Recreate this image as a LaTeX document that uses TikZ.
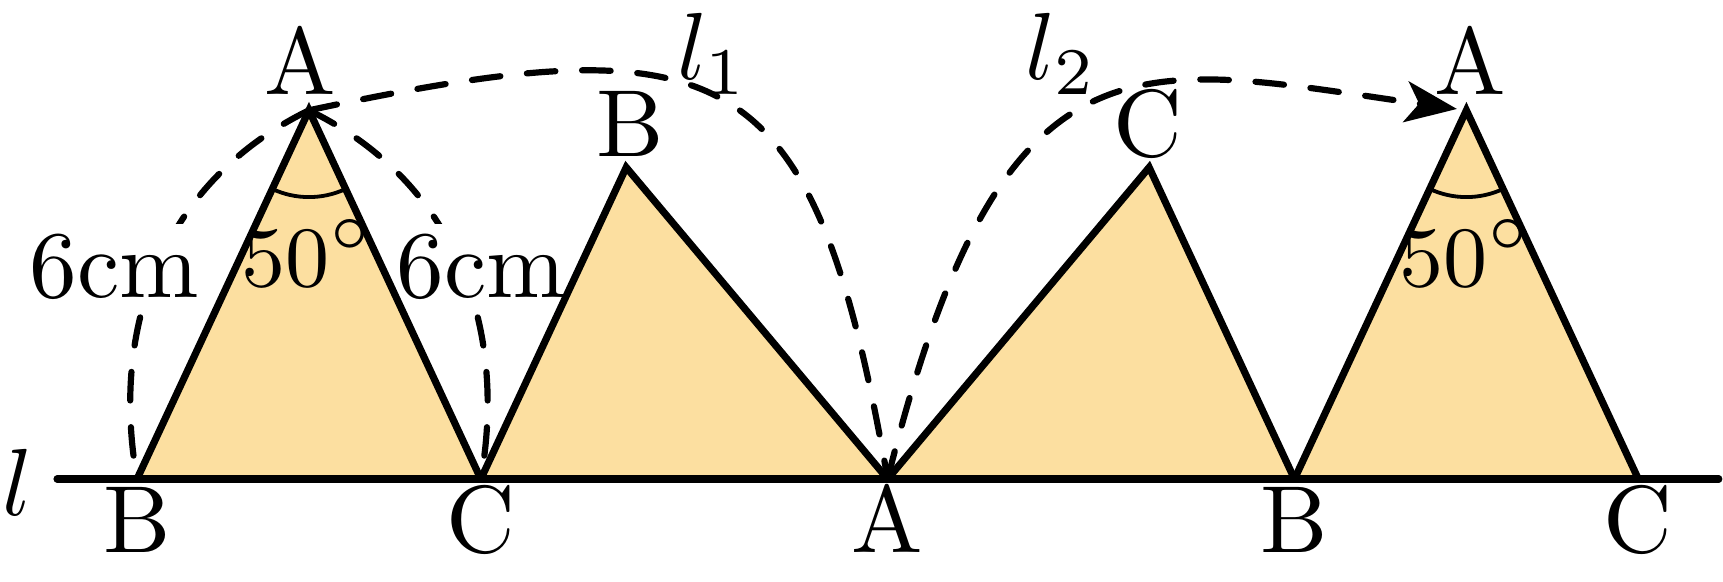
\documentclass[tikz,border=0pt]{standalone}
\usetikzlibrary{arrows.meta}
\definecolor{trifill}{RGB}{252,223,160}
\begin{document}
\begin{tikzpicture}[x=0.25cm, y=0.25cm,
  tri/.style={fill=trifill, draw=black, line width=0.75pt},
  move/.style={line width=0.65pt, dash pattern=on 3pt off 2.8pt, line cap=round},
  ang/.style={line width=0.4pt},
  lab/.style={anchor=base, inner sep=0pt},
  len/.style={anchor=base, fill=white, inner sep=1pt},
  deg/.style={anchor=base, inner sep=0pt, font=\fontsize{9.3}{11}\selectfont}]
\useasboundingbox (-2.021,-1.519) rectangle (23.392,7.065);
% vertices
\coordinate (B1) at (0,0);
\coordinate (A1) at (2.536,5.438);
\coordinate (C1) at (5.071,0);
\coordinate (B2) at (7.215,4.596);
\coordinate (A2) at (11.071,0);
\coordinate (C2) at (14.928,4.596);
\coordinate (B3) at (17.071,0);
\coordinate (A3) at (19.607,5.438);
\coordinate (C3) at (22.143,0);
\coordinate (lL) at (-1.18,0);
\coordinate (lR) at (23.33,0);
% moves
\draw[move] (A1) to[out=206,in=100] (B1);
\draw[move] (A1) to[out=334,in=80] (C1);
\draw[move] (A1) to[out=12,in=100,looseness=1.6] (A2);
\draw[move, -{Stealth[length=5.4pt,width=4.3pt,inset=1.4pt]}, shorten >=1pt] (A2) to[out=76,in=172,out distance=1.77cm,in distance=1.22cm] (A3);
\node[len] (lenL) at (-0.339,2.684) {6cm};
\node[len] (lenR) at (5.08,2.684) {6cm};
% triangles
\draw[tri] (B1) -- (A1) -- (C1) -- cycle;
\draw[tri] (C1) -- (B2) -- (A2) -- cycle;
\draw[tri] (A2) -- (C2) -- (B3) -- cycle;
\draw[tri] (B3) -- (A3) -- (C3) -- cycle;
\draw[line width=0.75pt, line cap=round] (lL) -- (lR);
\draw[ang] ([shift={(245:1.28)}]A1) arc[start angle=245, end angle=295, radius=1.28];
\draw[ang] ([shift={(245:1.28)}]A3) arc[start angle=245, end angle=295, radius=1.28];
% labels
\node[lab] (nl) at (-1.763,-0.531) {$l$};
\node[lab] (nl1) at (8.49,5.885) {$l_1$};
\node[lab] (nl2) at (13.63,5.885) {$l_2$};
\node[lab] (tA1) at (2.41,5.678) {A};
\node[lab] (tB2) at (7.27,4.75) {B};
\node[lab] (tC2) at (14.91,4.75) {C};
\node[lab] (tA3) at (19.66,5.67) {A};
\node[lab] (bB1) at (0,-1.091) {B};
\node[lab] (bC1) at (5.071,-1.091) {C};
\node[lab] (bA2) at (11.071,-1.091) {A};
\node[lab] (bB3) at (17.071,-1.091) {B};
\node[lab] (bC3) at (22.143,-1.091) {C};
\node[deg] (g1) at (2.52,2.832) {$50^\circ$};
\node[deg] (g2) at (19.6,2.832) {$50^\circ$};
\end{tikzpicture}
\end{document}
